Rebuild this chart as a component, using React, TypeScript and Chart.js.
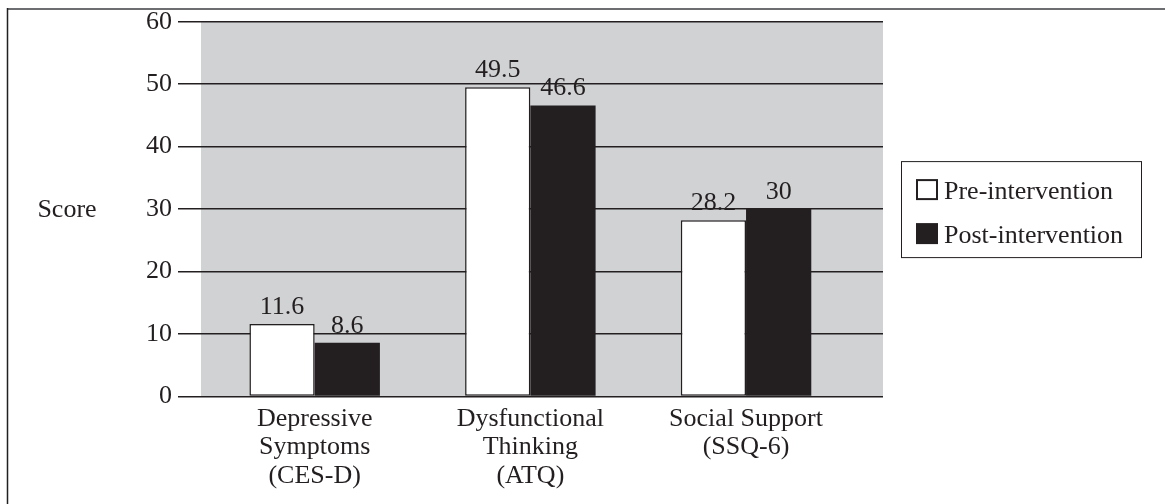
import { useEffect, useRef } from "react";
import { Chart, registerables } from "chart.js";

Chart.register(...registerables);

const categories: string[][] = [
  ["Depressive", "Symptoms", "(CES-D)"],
  ["Dysfunctional", "Thinking", "(ATQ)"],
  ["Social Support", "(SSQ-6)"],
];
const seriesNames = ["Pre-intervention", "Post-intervention"];
const preValues = [11.6, 49.5, 28.2];
const postValues = [8.6, 46.6, 30];
const yTicks = [0, 10, 20, 30, 40, 50, 60];
const yTitle = "Score";

const INK = "#231f20";
const FONT = "'Liberation Serif', 'Times New Roman', serif";

const decorPlugin = {
  id: "decor",
  beforeDraw(chart: any) {
    const { ctx, chartArea } = chart;
    ctx.save();
    ctx.fillStyle = "#ffffff";
    ctx.fillRect(0, 0, chart.width, chart.height);
    ctx.fillStyle = "#d1d2d4";
    ctx.fillRect(chartArea.left, chartArea.top, chartArea.right - chartArea.left, chartArea.bottom - chartArea.top);
    ctx.restore();
  },
  afterDraw(chart: any) {
    const { ctx, chartArea } = chart;
    ctx.save();
    // frame (top and left edges visible)
    ctx.strokeStyle = "#6d6e71";
    ctx.lineWidth = 2;
    ctx.beginPath();
    ctx.moveTo(7, 9);
    ctx.lineTo(chart.width, 9);
    ctx.stroke();
    ctx.strokeStyle = INK;
    ctx.lineWidth = 1.5;
    ctx.beginPath();
    ctx.moveTo(7.5, 8);
    ctx.lineTo(7.5, chart.height);
    ctx.stroke();

    // y title
    const midY = (chartArea.top + chartArea.bottom) / 2;
    ctx.fillStyle = INK;
    ctx.font = `26px ${FONT}`;
    ctx.textAlign = "center";
    ctx.textBaseline = "middle";
    ctx.fillText(yTitle, 67, midY + 1);

    // value labels
    ctx.textBaseline = "alphabetic";
    chart.data.datasets.forEach((ds: any, di: number) => {
      const meta = chart.getDatasetMeta(di);
      meta.data.forEach((el: any, i: number) => {
        const v = ds.data[i].y;
        ctx.fillText(String(v), el.x, el.y - 10);
      });
    });

    // legend
    const lx = chartArea.right + 18;
    const ly = midY - 48;
    const lw = 240;
    const lh = 96;
    ctx.strokeStyle = INK;
    ctx.lineWidth = 1;
    ctx.strokeRect(lx + 0.5, ly + 0.5, lw, lh);
    ctx.textAlign = "left";
    chart.data.datasets.forEach((ds: any, di: number) => {
      const by = ly + 18 + di * 44;
      const bx = lx + 15;
      if (ds.backgroundColor === "#ffffff") {
        ctx.fillStyle = "#ffffff";
        ctx.fillRect(bx, by, 22, 21);
        ctx.strokeStyle = INK;
        ctx.lineWidth = 2;
        ctx.strokeRect(bx + 1, by + 1, 20, 19);
      } else {
        ctx.fillStyle = ds.backgroundColor;
        ctx.fillRect(bx, by, 22, 21);
      }
      ctx.fillStyle = INK;
      ctx.fillText(ds.label, bx + 28, by + 20);
    });
    ctx.restore();
  },
};

export default function App() {
  const ref = useRef<HTMLCanvasElement | null>(null);

  useEffect(() => {
    if (!ref.current) return;
    const chart = new Chart(ref.current, {
      type: "bar",
      data: {
        datasets: [
          {
            label: seriesNames[0],
            data: preValues.map((v, i) => ({ x: i, y: v })),
            backgroundColor: "#ffffff",
            borderColor: INK,
            borderWidth: 1.5,
            borderSkipped: false,
          },
          {
            label: seriesNames[1],
            data: postValues.map((v, i) => ({ x: i, y: v })),
            backgroundColor: INK,
            borderWidth: 0,
          },
        ],
      },
      options: {
        responsive: false,
        animation: false,
        devicePixelRatio: 1,
        barPercentage: 1,
        categoryPercentage: 0.605,
        layout: { padding: { top: 21.7, right: 282, bottom: 0, left: 0 } },
        plugins: {
          legend: { display: false },
          tooltip: { enabled: false },
        },
        scales: {
          x: {
            type: "linear",
            position: "bottom",
            offset: false,
            min: -0.527,
            max: 2.635,
            grid: { display: false, offset: false },
            border: { display: false },
            afterBuildTicks: (s: any) => {
              s.ticks = categories.map((_, i) => ({ value: i }));
            },
            afterFit: (s: any) => {
              s.height = 107.5;
            },
            ticks: {
              autoSkip: false,
              maxRotation: 0,
              minRotation: 0,
              padding: 0,
              color: INK,
              font: { family: FONT, size: 26, lineHeight: 1.1 },
              callback: (v: any) => categories[v] ?? "",
            },
          },
          y: {
            min: 0,
            max: 60,
            afterBuildTicks: (s: any) => {
              s.ticks = yTicks.map((v) => ({ value: v }));
            },
            afterFit: (s: any) => {
              s.width = 201;
            },
            grid: { color: INK, lineWidth: 1.5, tickLength: 23, drawTicks: true },
            border: { display: false },
            ticks: {
              padding: 6,
              color: INK,
              font: { family: FONT, size: 26 },
            },
          },
        },
      } as any,
      plugins: [decorPlugin],
    });
    return () => chart.destroy();
  }, []);

  return (
    <div style={{ position: "fixed", left: 0, top: 0, width: 1165, height: 504, background: "#fff" }}>
      <canvas ref={ref} width={1165} height={504} style={{ display: "block" }} />
    </div>
  );
}
